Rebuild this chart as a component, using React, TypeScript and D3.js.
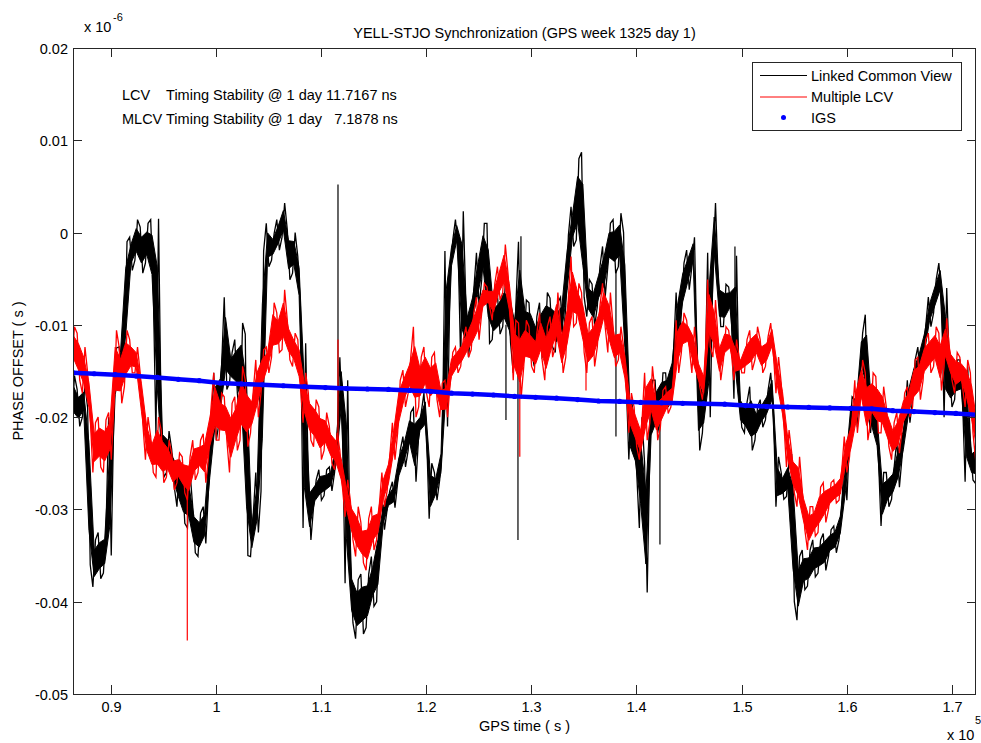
import React from 'react';
import * as d3 from 'd3';

// ---- data (phase offsets in units of 1e-3 of the axis unit, axis unit = 1e-6 s) ----
const T0 = 86400;
const STEP = 500;
const SCALE = 1e-3;

const lcvHi = [
  -15.5, -17, -16.5, -19, -33.3, -32.5, -32.2, -20, -12.5, -12.4,
  -1, -0.5, 1.4, 0.6, 1.0, 1.4, 1.5, -20.6, -21.5, -23.5,
  -24.6, -26, -26, -29.7, -30.4, -29.7, -21.7, -15.2, -14.5, -7,
  -13, -11.6, -9.8, -11, -30.8, -26, -2, 1.0, -0.1, 1.4,
  3.2, 0.3, 0, -2.6, -12, -26.8, -26.8, -25.7, -25.7, -25.4,
  -22.5, -13.5, -16, -36.2, -37.6, -37, -37, -35.1, -31.4, -29,
  -28, -27, -23.6, -22.1, -19.5, -19, -19.5, -17.4, -25, -26,
  -23.2, -2, -0.8, 1.4, 2.3, -8, -6.2, -2.2, 1.0, 1,
  -7.3, -6.8, -5.5, -5.5, -8, -1, -7.3, -7.6, -9.1, -7.6,
  -6.5, -7.1, -7.6, -7, -0.3, 2.8, 8.0, 8.7, -5.1, -5.6,
  -3.7, -1.5, 1, 1.4, 2.1, 0, -18.1, -20.3, -20, -25,
  -16, -16, -15.2, -15.2, -13, -6.5, -3.3, -1.9, -0.5, -13.8,
  -16.7, -2.2, 3.2, -5.1, -5.6, -5.9, -2.5, -17.4, -18.4, -16.7,
  -18.9, -18.1, -17.1, -15.2, -24.3, -26, -24.6, -24, -35.1, -34.4,
  -34.4, -33.3, -33.3, -32.6, -32.2, -31.8, -30, -24.3, -17.8, -18.1,
  -10.9, -8.9, -18.5, -18.9, -26, -26, -25.4, -22.5, -20.6, -16,
  -13.8, -12.4, -10.2, -7, -5.1, -3.3, -6, -14.5, -13.8, -13.8,
  -14.5, -23.2, -22.5,
];
const lcvLo = [
  -20.5, -21, -20, -36, -38.4, -37.5, -36.9, -35, -19, -15.2,
  -14, -4.1, -3, -4.4, -3.3, -6.2, -22, -26.5, -26, -27.6,
  -29.7, -31.5, -32, -34.7, -35.1, -33.7, -27.9, -22.5, -20.6, -17,
  -16.3, -17.4, -20.6, -35, -35.1, -32.5, -28, -3.7, -3, -1.9,
  -0.5, -5.1, -4.4, -8, -32, -33.3, -29.7, -29, -28.5, -28,
  -26, -20.6, -38, -42.3, -44, -43.5, -42.8, -40.5, -40, -32.2,
  -30, -29.8, -27.1, -25.4, -23.6, -27, -22, -21.7, -31, -29,
  -26.8, -21, -4.4, -1.5, -14, -13.5, -10.2, -8, -5.1, -12,
  -11.6, -11, -10.2, -12, -15.2, -15, -13, -13, -14.5, -13.5,
  -13, -12.4, -13, -11.6, -8, -1.5, -0.8, -7, -9.1, -10.2,
  -8, -7, -3.7, -4.4, -3.7, -16, -24.6, -26, -32, -39,
  -23.6, -21.7, -20, -18.9, -18.1, -13, -8.7, -6.2, -3.7, -23.6,
  -21.7, -20, -3.7, -10.2, -10.2, -8.7, -18, -21.1, -21.7, -23.6,
  -22.5, -21.1, -20.3, -18.9, -29.7, -28.9, -28.6, -40, -42, -38.7,
  -38.3, -37.3, -36.9, -36.6, -35.1, -34.7, -33.3, -29, -22.5, -21.1,
  -15.2, -18.9, -21.7, -24.3, -31.8, -29.7, -28.9, -27.6, -24.3, -20.6,
  -18.1, -16, -13.8, -10.2, -8.7, -7, -20, -18.9, -18.1, -17.8,
  -27, -26.8, -27.2,
];
const mlcvHi = [
  -10.2, -10.9, -12.4, -15.2, -20.6, -20, -20.3, -19.5, -10.6, -12.4,
  -10.6, -11.6, -12.4, -15.2, -20, -22.1, -20, -21.4, -22.5, -23.9,
  -23.9, -24.3, -24.3, -22.5, -22.5, -21.8, -18.9, -15.2, -17.4, -17.8,
  -18.5, -17.8, -14.5, -16, -17.4, -13.8, -12.7, -12.4, -7.6, -8.7,
  -6.2, -9.5, -10.9, -11.6, -15.2, -17.4, -18.1, -18.9, -19.5, -21,
  -21.7, -23.6, -26.8, -29, -29.7, -31.4, -31, -29.7, -29.7, -26,
  -24.3, -20.6, -16, -14.9, -13.5, -10.2, -13.5, -12.4, -13.5, -13,
  -16.3, -16, -13, -12.4, -11.6, -10.2, -8.7, -7, -5.5, -5.9,
  -5.5, -3.7, -1.3, -4.4, -9.5, -9.8, -9.5, -10.2, -10.9, -8.7,
  -10.2, -9.1, -6.5, -10.2, -7, -2.6, -5.5, -6.5, -9.8, -9.1,
  -8, -5.5, -6.5, -10.2, -10.2, -12.4, -17.4, -18.9, -20.6, -15.2,
  -14.5, -17.4, -17.1, -16.7, -16.3, -9.5, -8.7, -9.5, -10.2, -13.5,
  -14.9, -5.1, -7.3, -11.6, -10.2, -10.6, -11.6, -13.5, -11.6, -10.6,
  -10.2, -11.6, -11.3, -9.8, -13.5, -16.3, -21.4, -23.9, -24.3, -27.9,
  -29.7, -29.7, -27.6, -27.1, -27.1, -26.8, -26, -22.1, -20.3, -16,
  -13.8, -15.2, -15.2, -15.6, -16.7, -18.9, -20.6, -19.5, -17.4, -16.7,
  -13.8, -13.5, -11.6, -10.9, -10.2, -10.9, -9.3, -12.4, -13, -13.5,
  -13.8, -15.2, -19.5,
];
const mlcvLo = [
  -14.5, -16, -17.4, -20, -26, -25.4, -26, -24.6, -18.9, -18.5,
  -16.7, -15.2, -15.2, -20.6, -24.6, -26, -26.5, -27.1, -26.5, -27.9,
  -27.1, -28.2, -29, -26.8, -26, -27.1, -24.3, -22.5, -22.5, -22.5,
  -26, -23.6, -22.5, -23.2, -21.7, -20, -17.4, -15.2, -13.5, -13,
  -12.7, -13.8, -14.5, -16.7, -20.6, -22.5, -23.2, -24.6, -23.6, -25,
  -25.7, -27.6, -30.8, -33.3, -35.1, -35.8, -36.6, -34.4, -33.3, -29.7,
  -28, -24.6, -21.7, -18.9, -17.4, -20, -18.9, -17.4, -18.9, -18.1,
  -20, -20, -16.3, -15.2, -14.5, -13.5, -12.7, -11.6, -8.7, -8,
  -9.5, -7.3, -6.5, -9.5, -16, -18, -14.5, -14.5, -15.2, -13.8,
  -16, -13.5, -12.4, -15.2, -13.5, -10.2, -9.8, -13, -15.2, -14.5,
  -12.4, -10.2, -13, -14.5, -13.8, -16.7, -21.7, -23.2, -24.6, -22.5,
  -20.6, -22.5, -21.1, -19.6, -18.9, -15.2, -13, -12.4, -15.2, -16.7,
  -18.1, -12.4, -13.5, -16, -13.8, -13, -16, -15.2, -15.2, -14.9,
  -13.8, -15.2, -14.5, -13, -17.4, -20.6, -25.4, -28.2, -29.7, -32.2,
  -34.4, -32.9, -32.5, -31.4, -30, -29.3, -29, -26, -24.3, -21.7,
  -18.9, -22.5, -20.6, -21.7, -21.7, -23.2, -24.6, -23.9, -21.4, -20,
  -18.9, -18.1, -16, -15.2, -14.5, -17.1, -14.5, -16, -17.4, -16.7,
  -18.9, -21.7, -24.6,
];
// isolated thin spikes: [time, from, to]
const lcvSpikes = [
  [111600, -24, 5.2], [127584, -10, -20.3], [128726, -12, -33.3],
  [129011, -8, -0.4], [138051, -4, -22.1], [142237, -18, -33.8], [149374, -8, -1.5],
];
const mlcvSpikes = [
  [97260, -27, -44.2], [111600, -24, -11.6], [128900, -14, -24.3], [135200, -12, -17.1],
];
const IGS_STEP = 2000;
const igsVals = [
  -15.2, -15.3, -15.4, -15.55, -15.7, -15.9, -16.05, -16.3, -16.4, -16.5,
  -16.6, -16.7, -16.8, -16.9, -16.95, -17.0, -17.1, -17.2, -17.4, -17.5,
  -17.6, -17.75, -17.85, -17.95, -18.1, -18.25, -18.3, -18.4, -18.45, -18.5,
  -18.55, -18.6, -18.75, -18.85, -18.9, -18.95, -19.0, -19.05, -19.1, -19.3,
  -19.4, -19.5, -19.6, -19.75,
];
const xTicks = [0.9, 1, 1.1, 1.2, 1.3, 1.4, 1.5, 1.6, 1.7];
const xTickLabels = ['0.9', '1', '1.1', '1.2', '1.3', '1.4', '1.5', '1.6', '1.7'];
const yTicks = [0.02, 0.01, 0, -0.01, -0.02, -0.03, -0.04, -0.05];
const yTickLabels = ['0.02', '0.01', '0', '-0.01', '-0.02', '-0.03', '-0.04', '-0.05'];
const legendItems = ['Linked Common View', 'Multiple LCV', 'IGS'];

const L = 73, R = 976, TOP = 48, BOT = 694;
const FONT = "'Liberation Sans', Arial, Helvetica, sans-serif";

export default function App() {
  const x = d3.scaleLinear().domain([86384, 172312]).range([L, R]);
  const y = d3.scaleLinear().domain([-0.05, 0.02]).range([BOT, TOP]);

  // inner filled core of the noise band
  const core = (hi: number[], lo: number[]) =>
    d3.area<number>()
      .x((_, i) => x(T0 + i * STEP))
      .y0((_, i) => y((lo[i] + (hi[i] - lo[i]) * 0.22) * SCALE))
      .y1((_, i) => y((hi[i] - (hi[i] - lo[i]) * 0.22) * SCALE))(hi) || '';

  // zig-zag trace through the envelope (lo -> hi at each sample, alternating)
  const zig = (hi: number[], lo: number[]) => {
    const pts: [number, number][] = [];
    hi.forEach((h, i) => {
      const px = x(T0 + i * STEP);
      if (i % 2 === 0) {
        pts.push([px - 1.3, y(lo[i] * SCALE)]);
        pts.push([px + 1.3, y(h * SCALE)]);
      } else {
        pts.push([px - 1.3, y(h * SCALE)]);
        pts.push([px + 1.3, y(lo[i] * SCALE)]);
      }
    });
    return d3.line()(pts) || '';
  };

  const igsLine = d3.line<number>()
    .x((_, i) => x(T0 + i * IGS_STEP))
    .y((d) => y(d * SCALE))(igsVals) || '';

  const txt = { fontFamily: FONT, fontSize: 14.5, fill: '#000' } as const;

  return (
    <svg width={981} height={743} style={{ position: 'absolute', left: 0, top: 0, background: '#fff' }}>
      <defs>
        <clipPath id="plotclip">
          <rect x={L} y={TOP} width={R - L} height={BOT - TOP} />
        </clipPath>
      </defs>
      <rect x={0} y={0} width={981} height={743} fill="#fff" />
      <g clipPath="url(#plotclip)">
        <path d={core(lcvHi, lcvLo)} fill="#000" stroke="#000" strokeWidth={1} />
        <path d={zig(lcvHi, lcvLo)} fill="none" stroke="#000" strokeWidth={1.3} strokeLinejoin="miter" />
        {lcvSpikes.map((s, i) => (
          <line key={'ls' + i} x1={x(s[0])} x2={x(s[0])} y1={y(s[1] * SCALE)} y2={y(s[2] * SCALE)} stroke="#000" strokeWidth={1.2} />
        ))}
        <path d={core(mlcvHi, mlcvLo)} fill="#ff0000" stroke="#ff0000" strokeWidth={1} />
        <path d={zig(mlcvHi, mlcvLo)} fill="none" stroke="#ff0000" strokeWidth={1.3} strokeLinejoin="miter" />
        {mlcvSpikes.map((s, i) => (
          <line key={'ms' + i} x1={x(s[0])} x2={x(s[0])} y1={y(s[1] * SCALE)} y2={y(s[2] * SCALE)} stroke="#ff0000" strokeWidth={1.2} />
        ))}
        <path d={igsLine} fill="none" stroke="#0000ff" strokeWidth={4.5} />
        {igsVals.map((d, i) => (
          <circle key={'ig' + i} cx={x(T0 + i * IGS_STEP)} cy={y(d * SCALE)} r={2.6} fill="#0000ff" />
        ))}
      </g>

      {/* axes box */}
      <rect x={L + 0.5} y={TOP + 0.5} width={R - L - 1} height={BOT - TOP} fill="none" stroke="#262626" strokeWidth={1} />
      {xTicks.map((t, i) => {
        const px = Math.round(x(t * 1e5)) + 0.5;
        return (
          <g key={'xt' + i}>
            <line x1={px} x2={px} y1={BOT} y2={BOT - 9} stroke="#262626" />
            <line x1={px} x2={px} y1={TOP} y2={TOP + 9} stroke="#262626" />
            <text x={px} y={712} textAnchor="middle" {...txt}>{xTickLabels[i]}</text>
          </g>
        );
      })}
      {yTicks.map((t, i) => {
        const py = Math.round(y(t)) + 0.5;
        return (
          <g key={'yt' + i}>
            <line x1={L} x2={L + 9} y1={py} y2={py} stroke="#262626" />
            <line x1={R - 9} x2={R} y1={py} y2={py} stroke="#262626" />
            <text x={68} y={py + 5} textAnchor="end" {...txt}>{yTickLabels[i]}</text>
          </g>
        );
      })}

      {/* exponents */}
      <text x={84} y={32} {...txt}>x 10</text>
      <text x={113} y={21} {...txt} fontSize={11}>-6</text>
      <text x={947} y={740} {...txt}>x 10</text>
      <text x={975} y={724} {...txt} fontSize={11}>5</text>

      {/* title and labels */}
      <text x={(L + R) / 2} y={38} textAnchor="middle" {...txt}>YELL-STJO Synchronization (GPS week 1325 day 1)</text>
      <text x={(L + R) / 2} y={731} textAnchor="middle" {...txt}>GPS time ( s )</text>
      <text transform={`translate(23, ${(TOP + BOT) / 2}) rotate(-90)`} textAnchor="middle" {...txt}>PHASE OFFSET ( s )</text>

      {/* annotations */}
      <text x={122} y={100} {...txt} style={{ whiteSpace: 'pre' }}>LCV    Timing Stability @ 1 day 11.7167 ns</text>
      <text x={122} y={124} {...txt} style={{ whiteSpace: 'pre' }}>MLCV Timing Stability @ 1 day   7.1878 ns</text>

      {/* legend */}
      <rect x={752.5} y={62.5} width={209} height={68} fill="#fff" stroke="#262626" />
      <line x1={760} x2={807} y1={75.5} y2={75.5} stroke="#000" />
      <line x1={760} x2={807} y1={97} y2={97} stroke="#ff0000" />
      <circle cx={783.5} cy={117.5} r={2.5} fill="#0000ff" />
      {legendItems.map((s, i) => (
        <text key={'lg' + i} x={811} y={81 + i * 21} {...txt}>{s}</text>
      ))}
    </svg>
  );
}
